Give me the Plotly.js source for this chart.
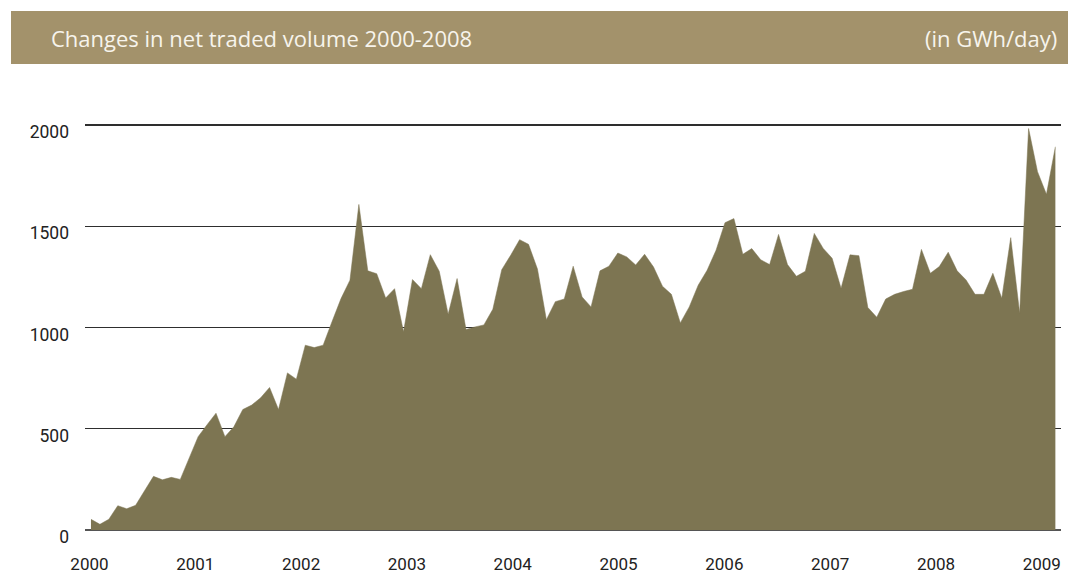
<!DOCTYPE html>
<html>
<head>
<meta charset="utf-8">
<script src="https://cdn.plot.ly/plotly-3.0.1.min.js"></script>
<style>
  html, body { margin: 0; padding: 0; background: #ffffff; }
  #chart { width: 1068px; height: 573px; }
</style>
</head>
<body>
<div id="chart"></div>
<script>
// Monthly net traded volume (GWh/day), Jan 2000 onwards
const volume = [
  53, 28, 53, 120, 105, 122, 194, 265, 248, 260, 250, 354,
  461, 520, 577, 461, 510, 595, 617, 653, 704, 595, 776, 745,
  913, 901, 913, 1030, 1143, 1234, 1608, 1280, 1266, 1146, 1192, 979,
  1237, 1192, 1360, 1278, 1066, 1242, 990, 1003, 1013, 1090, 1286, 1357,
  1434, 1411, 1289, 1039, 1128, 1141, 1303, 1151, 1102, 1280, 1303, 1368,
  1349, 1309, 1362, 1299, 1204, 1164, 1023, 1102, 1209, 1283, 1382, 1518,
  1538, 1362, 1390, 1335, 1311, 1460, 1311, 1253, 1278, 1465, 1391, 1342,
  1194, 1359, 1355, 1099, 1051, 1141, 1164, 1178, 1189, 1386, 1268, 1301,
  1372, 1280, 1235, 1164, 1164, 1268, 1145, 1444, 1071, 1983, 1770, 1658,
  1893
];
const yearLabels = ["2000","2001","2002","2003","2004","2005","2006","2007","2008","2009"];
const yTicks = [0, 500, 1000, 1500, 2000];
const titleText = "Changes in net traded volume 2000-2008";
const unitText = "(in GWh/day)";

const months = volume.map((_, i) => i);

// layout geometry (pixels)
const W = 1068, H = 573;
const mL = 85, mR = 7, mT = 118, mB = 43;
const pw = W - mL - mR, ph = H - mT - mB;
const px2x = p => (p - mL) / pw;
const py2y = p => (H - mB - p) / ph;

const tickPos = yearLabels.map((_, k) => -0.17 + k * 11.85);

const trace = {
  x: months,
  y: volume,
  type: 'scatter',
  mode: 'lines',
  fill: 'tozeroy',
  fillcolor: '#7d7552',
  line: { color: '#7d7552', width: 0.5 },
  hoverinfo: 'skip'
};

const layout = {
  width: W, height: H,
  margin: { l: mL, r: mR, t: mT, b: mB, pad: 0 },
  paper_bgcolor: '#ffffff',
  plot_bgcolor: '#ffffff',
  showlegend: false,
  font: { family: 'Roboto, sans-serif', color: '#222222', size: 17 },
  xaxis: {
    range: [-0.67, 108.63],
    showgrid: false,
    zeroline: false,
    showline: false,
    tickmode: 'array',
    tickvals: tickPos,
    ticktext: yearLabels,
    ticks: '',
    ticklabelstandoff: 22,
    tickfont: { size: 17, color: '#222222' },
    fixedrange: true
  },
  yaxis: {
    range: [0, 2035],
    tickmode: 'array',
    tickvals: yTicks,
    ticktext: yTicks.map(String),
    showgrid: true,
    gridcolor: '#2e2e2e',
    gridwidth: 1.3,
    zeroline: true,
    zerolinecolor: '#555555',
    zerolinewidth: 2,
    showline: false,
    ticks: '',
    ticklabelstandoff: 15,
    ticklabelshift: 7,
    tickfont: { size: 17.5, color: '#222222' },
    fixedrange: true
  },
  shapes: [
    {
      type: 'rect', xref: 'paper', yref: 'paper',
      x0: px2x(11), x1: px2x(1068), y0: py2y(64), y1: py2y(11),
      fillcolor: '#a3926b', line: { width: 0 }, layer: 'above'
    }
  ],
  annotations: [
    {
      xref: 'paper', yref: 'paper', x: px2x(49), y: py2y(38),
      xanchor: 'left', yanchor: 'middle', showarrow: false,
      text: titleText,
      font: { family: '"Open Sans", sans-serif', size: 22, weight: 400, color: '#f7f4ec' }
    },
    {
      xref: 'paper', yref: 'paper', x: px2x(1059), y: py2y(38),
      xanchor: 'right', yanchor: 'middle', showarrow: false,
      text: unitText,
      font: { family: '"Open Sans", sans-serif', size: 22, weight: 400, color: '#f7f4ec' }
    }
  ]
};

Plotly.newPlot('chart', [trace], layout, { displayModeBar: false, staticPlot: true });
</script>
</body>
</html>
